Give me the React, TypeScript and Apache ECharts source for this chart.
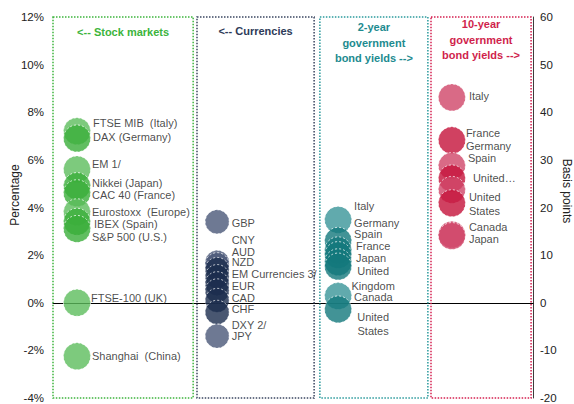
import React, { useEffect, useRef } from "react";
import * as echarts from "echarts";

// ---------- data ----------
const stockNames = ["FTSE MIB  (Italy)", "DAX (Germany)", "EM 1/", "Nikkei (Japan)", "CAC 40 (France)", "Eurostoxx  (Europe)", "IBEX (Spain)", "S&P 500 (U.S.)", "FTSE-100 (UK)", "Shanghai  (China)"];
const stockValues = [7.2, 6.9, 5.6, 4.9, 4.6, 3.8, 3.4, 3.1, 0.0, -2.25];

const currencyNames = ["GBP", "CNY", "AUD", "NZD", "EM Currencies 3/", "EUR", "CAD", "CHF", "DXY 2/", "JPY"];
const currencyValues = [3.4, 1.7, 1.6, 1.4, 1.1, 0.8, 0.5, 0.1, -0.4, -1.4];

const bond2Names = ["Italy", "Germany", "Spain", "France", "Japan", "United\nKingdom", "Canada", "United\nStates"];
const bond2Values = [17.4, 13, 11, 10, 8.5, 7.6, 1.4, -1.4];

const bond10Names = ["Italy", "France", "Germany", "Spain", "United…", "United\nStates", "Canada", "Japan"];
const bond10Values = [43.1, 34.1, 28.7, 26.1, 23.7, 20.9, 14.3, 14];

const panelTitles = ["<-- Stock markets", "<-- Currencies", "2-year\ngovernment\nbond yields -->", "10-year\ngovernment\nbond yields -->"];

const pctAxis = { min: -4, max: 12, interval: 2 };
const bpAxis = { min: -20, max: 60, interval: 10 };

// ---------- layout / style ----------
const panels = [
  { x: 5, left: 0, right: 29.2, titleDist: 8, size: 27, light: "#5dbd5d", dark: "#3aae3a", title: "#3cb43c", border: "#3cb43c" },
  { x: 34.2, left: 30, right: 54.4, titleDist: 7, size: 24, light: "#4a5878", dark: "#1c2d4d", title: "#2e3b58", border: "#3a4560" },
  { x: 59.4, left: 55.6, right: 78.1, titleDist: 3, size: 27, light: "#3a9599", dark: "#13787c", title: "#1d8b8f", border: "#2a9a9c" },
  { x: 83.1, left: 78.75, right: 99.6, titleDist: 0, size: 27, light: "#d04568", dark: "#c41239", title: "#d01f4c", border: "#d52050" },
];

const shades = [
  [0, 1, 0, 1, 1, 0, 1, 1, 0, 0],
  [0, 0, 0, 1, 1, 1, 1, 1, 1, 0],
  [0, 1, 1, 1, 1, 1, 0, 1],
  [0, 1, 0, 1, 0, 1, 0, 0],
];

const labelOffsets: number[][][] = [
  [[1, -8], [1, -1], [0, -5], [0, -3], [0, 1.5], [0, 0], [2, 2], [0, 8], [-1, -5], [0, 0]],
  [[1, 1], [1, -22], [1, -13], [1, -7], [1, -3], [1, 2], [1, 7], [1, 9], [1, 13], [1, 0]],
  [[1, -14], [1, -18], [1, -16], [3, -9], [3, -4], [20, 12], [1, 1], [20, 14.5]],
  [[2, -1.5], [-1, -7.5], [-1, -20], [1, -20], [6, -12], [2, 1], [2, -8], [2, 3]],
];
const centered = [[], [], [5, 7], []];

const FONT = "'Liberation Sans', Arial, sans-serif";

function buildSeries(idx: number, names: string[], values: number[], yAxisIndex: number) {
  const p = panels[idx];
  const ax = yAxisIndex === 0 ? pctAxis : bpAxis;
  return {
    type: "scatter",
    yAxisIndex,
    symbol: "circle",
    symbolSize: p.size,
    z: 3,
    itemStyle: { borderColor: "rgba(255,255,255,0.9)", borderWidth: 1, borderType: [2, 2] },
    label: {
      show: true,
      position: "right",
      distance: 1,
      formatter: "{b}",
      fontSize: 11,
      lineHeight: 11,
      color: "#1a1a1a",
      fontFamily: FONT,
    },
    data: names.map((n, i) => {
      const multi = n.includes("\n");
      const lbl: any = { offset: labelOffsets[idx][i] };
      if (multi) lbl.lineHeight = 14.5;
      if (centered[idx].includes(i)) lbl.align = "center";
      return {
        name: n,
        value: [p.x, values[i]],
        itemStyle: { color: shades[idx][i] ? p.dark : p.light },
        label: lbl,
      };
    }),
    markArea: {
      silent: true,
      itemStyle: { color: "rgba(0,0,0,0)", borderColor: p.border, borderWidth: 1.5, borderType: [1.5, 1.5] },
      label: {
        show: true,
        position: "insideTop",
        distance: p.titleDist,
        formatter: panelTitles[idx],
        color: p.title,
        fontWeight: "bold",
        fontSize: 11,
        lineHeight: 15.5,
        align: "center",
        fontFamily: FONT,
      },
      data: [[{ xAxis: p.left, yAxis: ax.max }, { xAxis: p.right, yAxis: ax.min }]],
    },
  };
}

export default function App() {
  const ref = useRef<HTMLDivElement>(null);
  useEffect(() => {
    if (!ref.current) return;
    const chart = echarts.init(ref.current, null, { renderer: "svg" });
    chart.setOption({
      animation: false,
      textStyle: { fontFamily: FONT },
      grid: { left: 53, right: 41, top: 17, bottom: 4 },
      xAxis: {
        type: "value",
        min: 0,
        max: 100,
        axisLine: { show: true, onZero: true, onZeroAxisIndex: 0, lineStyle: { color: "#000", width: 1 } },
        axisTick: { show: false },
        axisLabel: { show: false },
        splitLine: { show: false },
      },
      yAxis: [
        {
          type: "value",
          min: pctAxis.min,
          max: pctAxis.max,
          interval: pctAxis.interval,
          axisLine: { show: false },
          axisTick: { show: false },
          splitLine: { show: false },
          axisLabel: { formatter: "{value}%", fontSize: 11.5, color: "#222", margin: 9, fontFamily: FONT },
        },
        {
          type: "value",
          position: "right",
          min: bpAxis.min,
          max: bpAxis.max,
          interval: bpAxis.interval,
          axisLine: { show: true, lineStyle: { color: "#3c3c3c", width: 1 } },
          axisTick: { show: false },
          splitLine: { show: false },
          axisLabel: { fontSize: 11.5, color: "#222", margin: 7, fontFamily: FONT },
        },
      ],
      graphic: [
        {
          type: "text",
          x: 15,
          y: 195,
          rotation: Math.PI / 2,
          style: { text: "Percentage", fontSize: 12, fill: "#222", align: "center", verticalAlign: "middle", fontFamily: FONT },
        },
        {
          type: "text",
          x: 567,
          y: 191,
          rotation: -Math.PI / 2,
          style: { text: "Basis points", fontSize: 12, fill: "#222", align: "center", verticalAlign: "middle", fontFamily: FONT },
        },
      ],
      series: [
        buildSeries(0, stockNames, stockValues, 0),
        buildSeries(1, currencyNames, currencyValues, 0),
        buildSeries(2, bond2Names, bond2Values, 1),
        buildSeries(3, bond10Names, bond10Values, 1),
      ],
    });
    return () => chart.dispose();
  }, []);
  return <div ref={ref} style={{ position: "absolute", left: 0, top: 0, width: 574, height: 404 }} />;
}
